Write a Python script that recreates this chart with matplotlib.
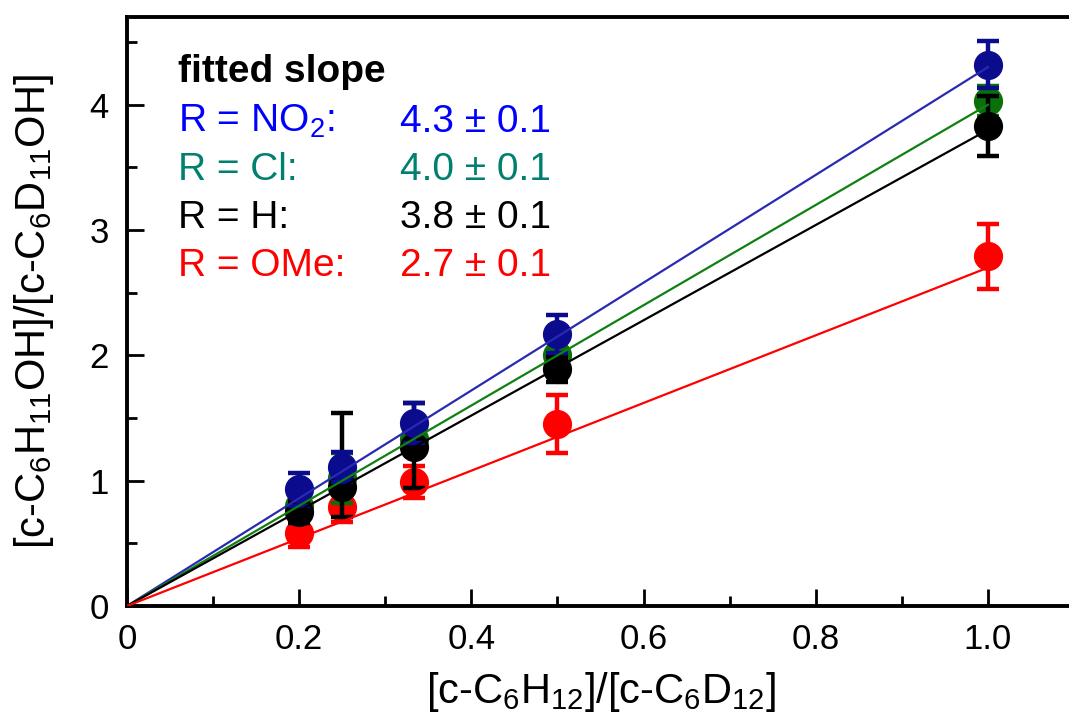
import matplotlib
matplotlib.use("Agg")
import matplotlib.pyplot as plt
import numpy as np
from matplotlib.ticker import MultipleLocator

plt.rcParams["font.family"] = ["Liberation Sans", "DejaVu Sans"]
plt.rcParams["mathtext.fontset"] = "custom"
plt.rcParams["mathtext.rm"] = "Liberation Sans"
plt.rcParams["mathtext.it"] = "Liberation Sans"
plt.rcParams["mathtext.bf"] = "Liberation Sans:bold"

# concentration ratio of cyclohexane isotopologues
ratio = [0.2, 0.25, 1 / 3, 0.5, 1.0]

# product ratio per substituent, with error bars (lower, upper)
y_no2 = [0.93, 1.11, 1.46, 2.17, 4.32]
e_no2 = [0.13, 0.12, 0.16, 0.15, 0.19]
y_cl = [0.80, 1.02, 1.33, 2.00, 4.03]
e_cl = [0.10, 0.20, 0.12, 0.12, 0.12]
y_h = [0.75, 0.95, 1.27, 1.89, 3.83]
e_h_lo = [0.09, 0.24, 0.33, 0.10, 0.24]
e_h_hi = [0.09, 0.59, 0.35, 0.10, 0.24]
y_ome = [0.58, 0.79, 0.99, 1.45, 2.79]
e_ome = [0.11, 0.12, 0.13, 0.23, 0.26]

# fitted slopes (through the origin)
slope_labels = ["R = NO$_2$:", "R = Cl:", "R = H:", "R = OMe:"]
slopes = [4.3, 4.0, 3.8, 2.7]
slope_err = [0.1, 0.1, 0.1, 0.1]

x_ticks = [0, 0.2, 0.4, 0.6, 0.8, 1.0]
x_ticklabels = ["0", "0.2", "0.4", "0.6", "0.8", "1.0"]
y_ticks = [0, 1, 2, 3, 4]

W, H = 1069, 720
fig = plt.figure(figsize=(W / 100, H / 100), dpi=100)
ax = fig.add_axes([127 / W, 1 - 606 / H, (1074 - 127) / W, (606 - 17) / H])

c_blue_mk = "#0b0b8e"
c_blue_ln = "#2a2ab0"
c_blue_tx = "#0000ff"
c_green_mk = "#0a700a"
c_green_ln = "#108010"
c_green_tx = "#00806e"
c_black = "#000000"
c_red = "#ff0000"

eb = dict(fmt="o", ms=20, elinewidth=3.2, capsize=8, capthick=3.2, linestyle="none")
ax.errorbar(ratio, y_ome, yerr=e_ome, color=c_red, zorder=2, **eb)
ax.errorbar(ratio, y_cl, yerr=e_cl, color=c_green_mk, zorder=3, **eb)
ax.errorbar(ratio, y_h, yerr=[e_h_lo, e_h_hi], color=c_black, zorder=4, **eb)
ax.errorbar(ratio, y_no2, yerr=e_no2, color=c_blue_mk, zorder=5, **eb)

xf = np.array([0.0, 1.0])
for s, c in zip(slopes, [c_blue_ln, c_green_ln, c_black, c_red]):
    ax.plot(xf, s * xf, color=c, lw=1.6, zorder=6)

ax.set_xlim(0, 1.1)
ax.set_ylim(0, 4.7)
ax.set_xticks(x_ticks)
ax.set_xticklabels(x_ticklabels)
ax.set_yticks(y_ticks)
ax.xaxis.set_minor_locator(MultipleLocator(0.1))
ax.yaxis.set_minor_locator(MultipleLocator(0.5))
ax.tick_params(which="both", direction="in", width=2, top=False, right=False)
ax.tick_params(which="major", length=12)
ax.tick_params(which="minor", length=7)
ax.tick_params(axis="x", labelsize=25, pad=12)
ax.tick_params(axis="y", labelsize=25, pad=13)
for sp in ax.spines.values():
    sp.set_linewidth(2.8)
ax.spines["right"].set_visible(False)

ax.set_xlabel("[c-C$_6$H$_{12}$]/[c-C$_6$D$_{12}$]", fontsize=30, labelpad=10)
ax.set_ylabel("[c-C$_6$H$_{11}$OH]/[c-C$_6$D$_{11}$OH]", fontsize=30, labelpad=24)

# slope summary
fs = 28
fig.text(178 / W, 1 - 82 / H, "fitted slope", fontsize=fs, fontweight="bold",
         color="black", va="baseline", ha="left")
rows_y = [132, 180, 228, 276]
for lab, s, e, c, yb in zip(slope_labels, slopes, slope_err,
                            [c_blue_tx, c_green_tx, c_black, c_red], rows_y):
    fig.text(178 / W, 1 - yb / H, lab, fontsize=fs, color=c, va="baseline", ha="left")
    fig.text(400 / W, 1 - yb / H, f"{s:.1f} \u00b1 {e:.1f}", fontsize=fs, color=c,
             va="baseline", ha="left")

fig.savefig("out.png", dpi=100)
